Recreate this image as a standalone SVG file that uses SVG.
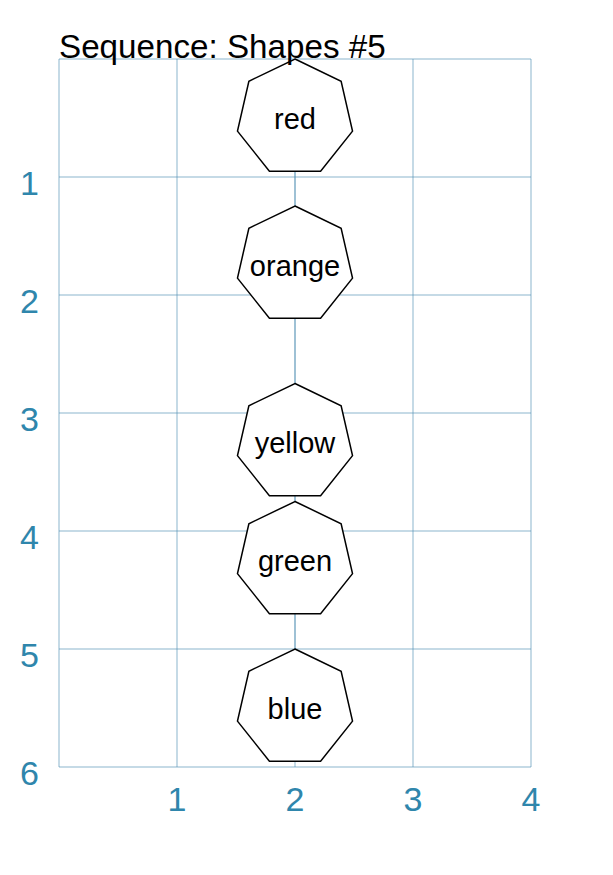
<svg xmlns="http://www.w3.org/2000/svg" xmlns:xlink="http://www.w3.org/1999/xlink" width="613" height="875" viewBox="0 0 613 875">
<style>
.grid line{stroke:#4f8fb3;stroke-opacity:0.65;stroke-width:1}
.conn line{stroke:#4f8fb3;stroke-opacity:0.65;stroke-width:1}
.hept{fill:#ffffff;stroke:#000000;stroke-width:1.5;stroke-linejoin:miter}
.lbl{font-family:"Liberation Sans",Arial,sans-serif;font-size:29px;fill:#000000;text-anchor:middle}
.ax{font-family:"Liberation Sans",Arial,sans-serif;font-size:34px;fill:#2f86ac;text-anchor:middle}
.title{font-family:"Liberation Sans",Arial,sans-serif;font-size:33.2px;fill:#000000}
</style>
<defs>
<polygon id="hep" class="hept" points="0,-59 46.13,-36.79 57.52,13.13 25.6,53.16 -25.6,53.16 -57.52,13.13 -46.13,-36.79"/>
</defs>
<rect width="613" height="875" fill="#ffffff"/>
<g id="grid" class="grid">
<line x1="59" y1="59" x2="59" y2="767"/>
<line x1="177" y1="59" x2="177" y2="767"/>
<line x1="295" y1="59" x2="295" y2="767"/>
<line x1="413" y1="59" x2="413" y2="767"/>
<line x1="531" y1="59" x2="531" y2="767"/>
<line x1="59" y1="59" x2="531" y2="59"/>
<line x1="59" y1="177" x2="531" y2="177"/>
<line x1="59" y1="295" x2="531" y2="295"/>
<line x1="59" y1="413" x2="531" y2="413"/>
<line x1="59" y1="531" x2="531" y2="531"/>
<line x1="59" y1="649" x2="531" y2="649"/>
<line x1="59" y1="767" x2="531" y2="767"/>
</g>
<g id="axis-labels">
<text class="ax" x="29.5" y="195">1</text>
<text class="ax" x="29.5" y="313">2</text>
<text class="ax" x="29.5" y="431">3</text>
<text class="ax" x="29.5" y="549">4</text>
<text class="ax" x="29.5" y="667">5</text>
<text class="ax" x="29.5" y="785">6</text>
<text class="ax" x="177" y="811">1</text>
<text class="ax" x="295" y="811">2</text>
<text class="ax" x="413" y="811">3</text>
<text class="ax" x="531" y="811">4</text>
</g>
<g id="connectors" class="conn">
<line x1="295" y1="171.2" x2="295" y2="206"/>
<line x1="295" y1="318.2" x2="295" y2="383.5"/>
<line x1="295" y1="495.7" x2="295" y2="501.5"/>
<line x1="295" y1="613.7" x2="295" y2="649"/>
</g>
<g id="node-red"><use xlink:href="#hep" x="295" y="118"/><text class="lbl" x="295" y="128.5">red</text></g>
<g id="node-orange"><use xlink:href="#hep" x="295" y="265"/><text class="lbl" x="295" y="275.5">orange</text></g>
<g id="node-yellow"><use xlink:href="#hep" x="295" y="442.5"/><text class="lbl" x="295" y="453">yellow</text></g>
<g id="node-green"><use xlink:href="#hep" x="295" y="560.5"/><text class="lbl" x="295" y="571">green</text></g>
<g id="node-blue"><use xlink:href="#hep" x="295" y="708"/><text class="lbl" x="295" y="718.5">blue</text></g>
<text class="title" x="59" y="58">Sequence: Shapes #5</text>
</svg>
